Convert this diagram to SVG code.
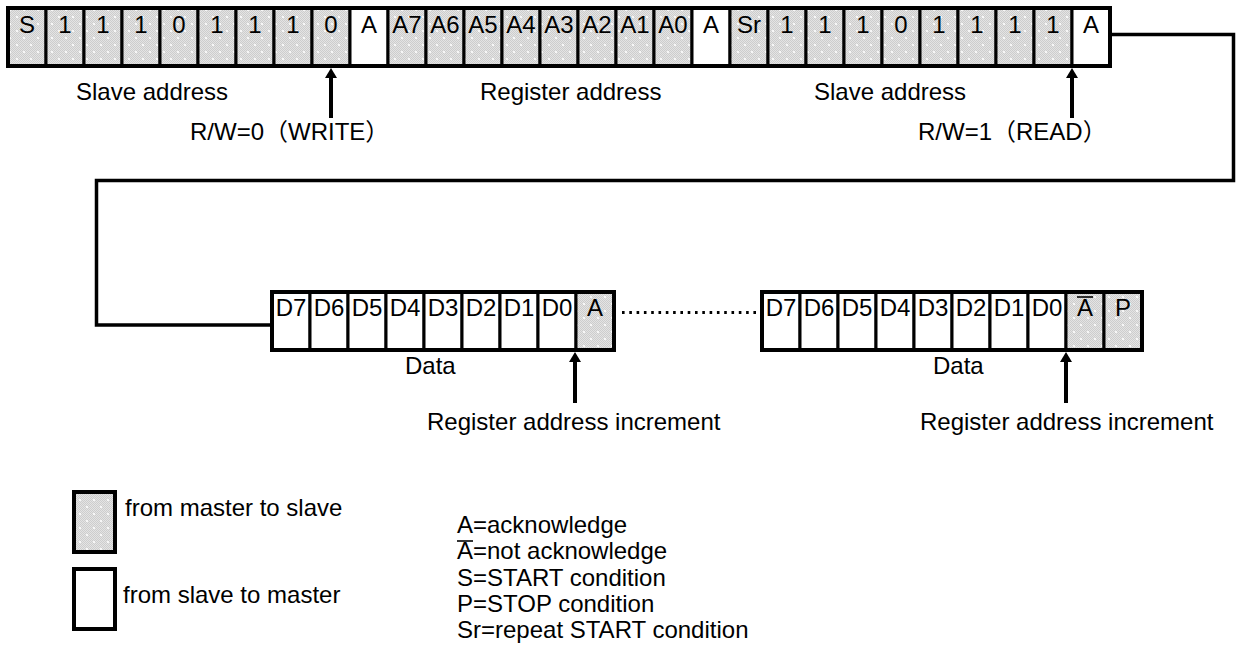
<svg xmlns="http://www.w3.org/2000/svg" width="1236" height="647" viewBox="0 0 1236 647">
<defs>
<pattern id="chk" width="2" height="2" patternUnits="userSpaceOnUse"><rect width="2" height="2" fill="#e4e4e4"/><rect width="1" height="1" fill="#cdcdcd"/><rect x="1" y="1" width="1" height="1" fill="#cdcdcd"/></pattern>
<pattern id="dots" width="14" height="14" patternUnits="userSpaceOnUse"><rect width="14" height="14" fill="url(#chk)"/><circle cx="3" cy="3" r="1.1" fill="#fff"/><circle cx="10" cy="10" r="1.1" fill="#fff"/></pattern>
<marker id="ah" viewBox="0 0 10 12" markerUnits="userSpaceOnUse" markerWidth="10" markerHeight="12" refX="0" refY="6" orient="auto"><path d="M0,0 L10,6 L0,12 z" fill="#000"/></marker>
<style>
.cell rect{stroke:#000;stroke-width:3}
.g{fill:url(#dots)}
.w{fill:#fff}
text{font-family:"Liberation Sans",Arial,"Noto Sans CJK SC",sans-serif;font-size:24px;fill:#000}
.c{text-anchor:middle}
.frame{fill:none;stroke:#000;stroke-width:4}
.conn{fill:none;stroke:#000;stroke-width:3.5}
.arr{stroke:#000;stroke-width:4;marker-end:url(#ah)}
.ov{stroke:#000;stroke-width:1.6}
</style>
</defs>
<rect width="1236" height="647" fill="#fff"/>

<g id="row1">
<g id="c0" class="cell"><rect class="g" x="8" y="8" width="38" height="58"/><text class="c" x="27" y="33">S</text></g>
<g id="c1" class="cell"><rect class="g" x="46" y="8" width="38" height="58"/><text class="c" x="65" y="33">1</text></g>
<g id="c2" class="cell"><rect class="g" x="84" y="8" width="38" height="58"/><text class="c" x="103" y="33">1</text></g>
<g id="c3" class="cell"><rect class="g" x="122" y="8" width="38" height="58"/><text class="c" x="141" y="33">1</text></g>
<g id="c4" class="cell"><rect class="g" x="160" y="8" width="38" height="58"/><text class="c" x="179" y="33">0</text></g>
<g id="c5" class="cell"><rect class="g" x="198" y="8" width="38" height="58"/><text class="c" x="217" y="33">1</text></g>
<g id="c6" class="cell"><rect class="g" x="236" y="8" width="38" height="58"/><text class="c" x="255" y="33">1</text></g>
<g id="c7" class="cell"><rect class="g" x="274" y="8" width="38" height="58"/><text class="c" x="293" y="33">1</text></g>
<g id="c8" class="cell"><rect class="g" x="312" y="8" width="38" height="58"/><text class="c" x="331" y="33">0</text></g>
<g id="c9" class="cell"><rect class="w" x="350" y="8" width="38" height="58"/><text class="c" x="369" y="33">A</text></g>
<g id="c10" class="cell"><rect class="g" x="388" y="8" width="38" height="58"/><text class="c" x="407" y="33">A7</text></g>
<g id="c11" class="cell"><rect class="g" x="426" y="8" width="38" height="58"/><text class="c" x="445" y="33">A6</text></g>
<g id="c12" class="cell"><rect class="g" x="464" y="8" width="38" height="58"/><text class="c" x="483" y="33">A5</text></g>
<g id="c13" class="cell"><rect class="g" x="502" y="8" width="38" height="58"/><text class="c" x="521" y="33">A4</text></g>
<g id="c14" class="cell"><rect class="g" x="540" y="8" width="38" height="58"/><text class="c" x="559" y="33">A3</text></g>
<g id="c15" class="cell"><rect class="g" x="578" y="8" width="38" height="58"/><text class="c" x="597" y="33">A2</text></g>
<g id="c16" class="cell"><rect class="g" x="616" y="8" width="38" height="58"/><text class="c" x="635" y="33">A1</text></g>
<g id="c17" class="cell"><rect class="g" x="654" y="8" width="38" height="58"/><text class="c" x="673" y="33">A0</text></g>
<g id="c18" class="cell"><rect class="w" x="692" y="8" width="38" height="58"/><text class="c" x="711" y="33">A</text></g>
<g id="c19" class="cell"><rect class="g" x="730" y="8" width="38" height="58"/><text class="c" x="749" y="33">Sr</text></g>
<g id="c20" class="cell"><rect class="g" x="768" y="8" width="38" height="58"/><text class="c" x="787" y="33">1</text></g>
<g id="c21" class="cell"><rect class="g" x="806" y="8" width="38" height="58"/><text class="c" x="825" y="33">1</text></g>
<g id="c22" class="cell"><rect class="g" x="844" y="8" width="38" height="58"/><text class="c" x="863" y="33">1</text></g>
<g id="c23" class="cell"><rect class="g" x="882" y="8" width="38" height="58"/><text class="c" x="901" y="33">0</text></g>
<g id="c24" class="cell"><rect class="g" x="920" y="8" width="38" height="58"/><text class="c" x="939" y="33">1</text></g>
<g id="c25" class="cell"><rect class="g" x="958" y="8" width="38" height="58"/><text class="c" x="977" y="33">1</text></g>
<g id="c26" class="cell"><rect class="g" x="996" y="8" width="38" height="58"/><text class="c" x="1015" y="33">1</text></g>
<g id="c27" class="cell"><rect class="g" x="1034" y="8" width="38" height="58"/><text class="c" x="1053" y="33">1</text></g>
<g id="c28" class="cell"><rect class="w" x="1072" y="8" width="38" height="58"/><text class="c" x="1091" y="33">A</text></g>
<rect class="frame" x="8" y="8" width="1102" height="58"/>
</g>

<g id="data1">
<g id="d1_7" class="cell"><rect class="w" x="272" y="292" width="38" height="58"/><text class="c" x="291" y="316">D7</text></g>
<g id="d1_6" class="cell"><rect class="w" x="310" y="292" width="38" height="58"/><text class="c" x="329" y="316">D6</text></g>
<g id="d1_5" class="cell"><rect class="w" x="348" y="292" width="38" height="58"/><text class="c" x="367" y="316">D5</text></g>
<g id="d1_4" class="cell"><rect class="w" x="386" y="292" width="38" height="58"/><text class="c" x="405" y="316">D4</text></g>
<g id="d1_3" class="cell"><rect class="w" x="424" y="292" width="38" height="58"/><text class="c" x="443" y="316">D3</text></g>
<g id="d1_2" class="cell"><rect class="w" x="462" y="292" width="38" height="58"/><text class="c" x="481" y="316">D2</text></g>
<g id="d1_1" class="cell"><rect class="w" x="500" y="292" width="38" height="58"/><text class="c" x="519" y="316">D1</text></g>
<g id="d1_0" class="cell"><rect class="w" x="538" y="292" width="38" height="58"/><text class="c" x="557" y="316">D0</text></g>
<g id="d1_a" class="cell"><rect class="g" x="576" y="292" width="38" height="58"/><text class="c" x="595" y="316">A</text></g>
<rect class="frame" x="272" y="292" width="342" height="58"/>
</g>

<g id="data2">
<g id="d2_7" class="cell"><rect class="w" x="762" y="292" width="38" height="58"/><text class="c" x="781" y="316">D7</text></g>
<g id="d2_6" class="cell"><rect class="w" x="800" y="292" width="38" height="58"/><text class="c" x="819" y="316">D6</text></g>
<g id="d2_5" class="cell"><rect class="w" x="838" y="292" width="38" height="58"/><text class="c" x="857" y="316">D5</text></g>
<g id="d2_4" class="cell"><rect class="w" x="876" y="292" width="38" height="58"/><text class="c" x="895" y="316">D4</text></g>
<g id="d2_3" class="cell"><rect class="w" x="914" y="292" width="38" height="58"/><text class="c" x="933" y="316">D3</text></g>
<g id="d2_2" class="cell"><rect class="w" x="952" y="292" width="38" height="58"/><text class="c" x="971" y="316">D2</text></g>
<g id="d2_1" class="cell"><rect class="w" x="990" y="292" width="38" height="58"/><text class="c" x="1009" y="316">D1</text></g>
<g id="d2_0" class="cell"><rect class="w" x="1028" y="292" width="38" height="58"/><text class="c" x="1047" y="316">D0</text></g>
<g id="d2_na" class="cell"><rect class="g" x="1066" y="292" width="38" height="58"/><text class="c" x="1085" y="316">A</text><line class="ov" x1="1077" y1="297" x2="1093" y2="297"/></g>
<g id="d2_p" class="cell"><rect class="g" x="1104" y="292" width="38" height="58"/><text class="c" x="1123" y="316">P</text></g>
<rect class="frame" x="762" y="292" width="380" height="58"/>
</g>

<g id="connectors">
<path class="conn" d="M1110,34.5 H1233.5 V180.5 H96.5 V325 H272"/>
<line x1="622" y1="312.5" x2="762" y2="312.5" stroke="#000" stroke-width="3" stroke-dasharray="2.6 4.7"/>
<line class="arr" x1="331" y1="118" x2="331" y2="78"/>
<line class="arr" x1="1072" y1="118" x2="1072" y2="78"/>
<line class="arr" x1="575" y1="403" x2="575" y2="362"/>
<line class="arr" x1="1066" y1="403" x2="1066" y2="362"/>
</g>

<g id="labels">
<text x="76" y="100">Slave address</text>
<text x="190" y="140">R/W=0（WRITE）</text>
<text x="480" y="100">Register address</text>
<text x="814" y="100">Slave address</text>
<text x="918" y="140">R/W=1（READ）</text>
<text x="405" y="374">Data</text>
<text x="933" y="374">Data</text>
<text x="427" y="430">Register address increment</text>
<text x="920" y="430">Register address increment</text>
</g>

<g id="legend">
<rect x="74" y="492" width="41" height="60" fill="url(#dots)" stroke="#000" stroke-width="4"/>
<text x="125" y="516">from master to slave</text>
<rect x="74" y="569" width="41" height="60" fill="#fff" stroke="#000" stroke-width="4"/>
<text x="123" y="603">from slave to master</text>
<text x="457" y="533">A=acknowledge</text>
<text x="457" y="559">A=not acknowledge</text>
<line class="ov" x1="457" y1="541" x2="473" y2="541"/>
<text x="457" y="586">S=START condition</text>
<text x="457" y="612">P=STOP condition</text>
<text x="457" y="638">Sr=repeat START condition</text>
</g>
</svg>
